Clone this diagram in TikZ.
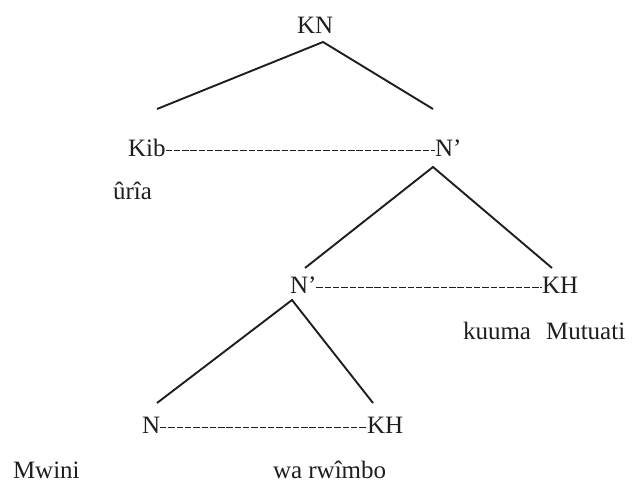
\documentclass[tikz,border=0pt]{standalone}
\usepackage{fontspec}
\setmainfont{Liberation Serif}
\usepackage{tikz}
\usetikzlibrary{positioning}
\definecolor{ink}{RGB}{30,30,30}

\begin{document}
\begin{tikzpicture}[x=0.5pt, y=-0.5pt,
    every node/.style={inner sep=0, outer sep=0, anchor=base west, text=ink, font=\fontsize{12.5}{15}\selectfont},
    branch/.style={draw=ink, line width=0.95pt},
    gap/.style={draw=ink, line width=0.75pt, dash pattern=on 3.2pt off 0.95pt}]
    \useasboundingbox (0,0) rectangle (637,482);

    \node (kn) at (297,33) {KN};
    \node (kib) at (128,156) {Kib};
    \node (np1) at (435,156) {N'};
    \node (uria) at (113,199) {ûrîa};
    \node (np2) at (290,293) {N'};
    \node (kh1) at (542,293) {KH};
    \node (kuuma) at (463,339) {kuuma\hspace{0.35em} Mutuati};
    \node (n) at (142,433) {N};
    \node (kh2) at (367,433) {KH};
    \node (mwini) at (13,478) {Mwini};
    \node (warwimbo) at (273,478) {wa rwîmbo};

    \coordinate (t0) at (323,42);
    \coordinate (t1) at (157,109);
    \coordinate (t2) at (433,109);
    \coordinate (t3) at (433,167);
    \coordinate (t4) at (305,268);
    \coordinate (t5) at (552,268);
    \coordinate (t6) at (292,300);
    \coordinate (t7) at (157,403);
    \coordinate (t8) at (373,403);

    \draw[branch] (t1) -- (t0) -- (t2);
    \draw[branch] (t4) -- (t3) -- (t5);
    \draw[branch] (t7) -- (t6) -- (t8);

    \draw[gap] ([yshift=2.8pt]kib.base east) -- ([yshift=2.8pt]np1.base west);
    \draw[gap] ([yshift=2.8pt]np2.base east) -- ([yshift=2.8pt]kh1.base west);
    \draw[gap] ([yshift=2.8pt]n.base east) -- ([yshift=2.8pt]kh2.base west);
\end{tikzpicture}
\end{document}
